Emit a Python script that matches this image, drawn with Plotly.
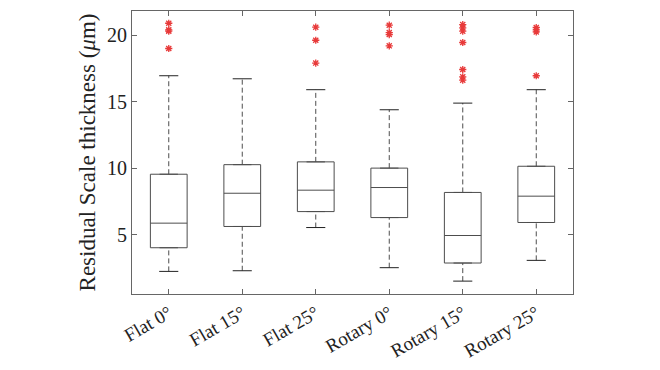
import numpy as np
import plotly.graph_objects as go

categories = ["Flat 0°", "Flat 15°", "Flat 25°", "Rotary 0°", "Rotary 15°", "Rotary 25°"]
lower_whisker = [2.23, 2.28, 5.53, 2.51, 1.50, 3.06]
q1 = [4.01, 5.61, 6.73, 6.28, 2.86, 5.91]
median = [5.86, 8.11, 8.34, 8.54, 4.93, 7.89]
q3 = [9.54, 10.26, 10.47, 10.00, 8.17, 10.14]
upper_whisker = [16.95, 16.72, 15.90, 14.39, 14.89, 15.90]
outliers = [
    [20.9, 20.4, 20.3, 19.0],
    [],
    [20.6, 19.62, 17.9],
    [20.75, 20.2, 20.05, 19.2],
    [20.8, 20.55, 20.3, 19.45, 17.42, 16.87, 16.62],
    [20.58, 20.4, 20.25, 16.95],
]
y_ticks = [5, 10, 15, 20]

FONT = "Liberation Serif, Times New Roman, serif"
BOX_COLOR = "#4d4d4d"
AX_COLOR = "#666666"
half_box = 0.25
half_cap = 0.13

fig = go.Figure()
pos = np.arange(len(categories))

for i in pos:
    fig.add_trace(go.Box(
        x=[i], q1=[q1[i]], median=[median[i]], q3=[q3[i]],
        lowerfence=[q1[i]], upperfence=[q3[i]],
        width=2 * half_box, fillcolor="rgba(0,0,0,0)",
        line=dict(color=BOX_COLOR, width=1), boxpoints=False,
        hoverinfo="skip", showlegend=False,
    ))

# dashed whiskers
wx, wy = [], []
for i in pos:
    wx += [i, i, None, i, i, None]
    wy += [q3[i], upper_whisker[i], None, lower_whisker[i], q1[i], None]
fig.add_trace(go.Scatter(x=wx, y=wy, mode="lines",
                         line=dict(color=BOX_COLOR, width=1, dash="5px,3px"),
                         showlegend=False, hoverinfo="skip"))
# caps
cx, cy = [], []
for i in pos:
    cx += [i - half_cap, i + half_cap, None, i - half_cap, i + half_cap, None]
    cy += [upper_whisker[i], upper_whisker[i], None, lower_whisker[i], lower_whisker[i], None]
fig.add_trace(go.Scatter(x=cx, y=cy, mode="lines",
                         line=dict(color="#222222", width=1),
                         showlegend=False, hoverinfo="skip"))
# outliers
ox, oy = [], []
for i in pos:
    ox += [i] * len(outliers[i])
    oy += outliers[i]
fig.add_trace(go.Scatter(x=ox, y=oy, mode="markers",
                         marker=dict(symbol="asterisk-open", size=6, color="#e83a3a",
                                     line=dict(color="#e83a3a", width=1.3)),
                         showlegend=False, hoverinfo="skip"))

fig.update_layout(
    width=652, height=362,
    margin=dict(l=124, r=87, t=3, b=76),
    paper_bgcolor="white", plot_bgcolor="white",
    font=dict(family=FONT, size=20, color="#222222"),
    xaxis=dict(range=[-0.5, 5.5], tickvals=list(pos), ticktext=categories,
               tickangle=-30, ticks="inside", ticklen=5, tickcolor=AX_COLOR,
               showline=True, linecolor=AX_COLOR, linewidth=1, mirror="ticks",
               showgrid=False, zeroline=False, tickfont=dict(size=19),
               automargin=False),
    yaxis=dict(range=[0.53, 21.82], tickvals=y_ticks,
               ticks="inside", ticklen=5, tickcolor=AX_COLOR,
               showline=True, linecolor=AX_COLOR, linewidth=1, mirror="ticks",
               showgrid=False, zeroline=False, tickfont=dict(size=20),
               automargin=False,
               title=dict(text="Residual Scale thickness (<i>μ</i>m)",
                          font=dict(size=23), standoff=4)),
)

fig.write_html("out.html")
